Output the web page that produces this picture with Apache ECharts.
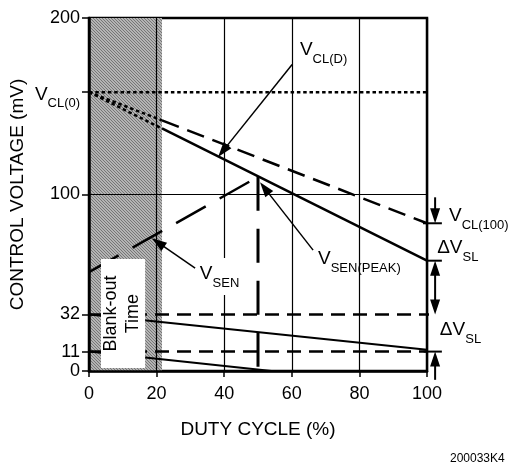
<!DOCTYPE html>
<html><head><meta charset="utf-8">
<script src="https://cdn.jsdelivr.net/npm/echarts@6/dist/echarts.min.js"></script>
<style>html,body{margin:0;padding:0;background:#fff}#c{width:508px;height:466px}</style>
</head><body><div id="c"></div>
<script>
// ---------- data (duty cycle %, control voltage mV) ----------
const xTickValues = [0, 20, 40, 60, 80, 100];
const yTickLabels = [0, 11, 32, 100, 200];
const yTickMarks = [0, 11, 32, 100, 158, 200];
const blankOutRange = [0, 21.6];
const vcl0Line = [[0, 158], [105.5, 158]];
const vclDBlank = [[0, 158], [21.6, 142]];
const vclD = [[21.6, 142], [100, 83.7]];
const vsenPeakBlank = [[0, 158], [21.6, 137.4]];
const vsenPeak = [[21.6, 137.4], [100, 62.5]];
const vsenRise = [[0, 56], [50, 110]];
const vsenDrop = [[50, 110], [50, 0]];
const level32 = [[0, 32], [103.5, 32]];
const level11 = [[0, 11], [100, 11]];
const slopeUpper = [[0, 32], [100, 12]];
const slopeLower = [[0, 11], [54, 0]];
const grid100 = [[0, 100], [100, 100]];

// ---------- annotations (in data coordinates) ----------
const arrows = [
  {from: [60.1, 173.7], to: [38.2, 121.3], w: 1.5},
  {from: [66.3, 68.5], to: [50.6, 106.9], w: 1.5},
  {from: [31.4, 58.3], to: [18.6, 75.2], w: 1.5},
  {from: [102.4, 98.4], to: [102.4, 83.7], w: 2},
  {from: [102.4, 62.5], to: [102.4, 32], w: 2, both: true},
  {from: [102.4, -5], to: [102.4, 11], w: 2},
  {from: [98.8, 83.7], to: [104.4, 83.7], w: 2, noHead: true},
  {from: [100, 62.5], to: [104.4, 62.5], w: 2, noHead: true},
  {from: [99, 11], to: [104.4, 11], w: 2, noHead: true}
];
const labels = [
  {x: 62.4, y: 181.8, main: 'V', sub: 'CL(D)'},
  {x: 67.75, y: 63.5, main: 'V', sub: 'SEN(PEAK)'},
  {x: 32.8, y: 54.9, main: 'V', sub: 'SEN', bg: true},
  {x: 106.5, y: 87.7, main: 'V', sub: 'CL(100)'},
  {x: 103, y: 69.6, main: '\u0394V', sub: 'SL'},
  {x: 103.8, y: 23.2, main: '\u0394V', sub: 'SL'},
  {x: -16, y: 156.7, main: 'V', sub: 'CL(0)'}
];
const blankBox = {x0: 3.55, x1: 16.6, y0: 1.7, y1: 63.4, text: 'Blank-out\nTime'};

const FF = '"Liberation Sans", Arial, Helvetica, sans-serif';
const MAIN_FONT = '19px ' + FF;
const SUB_FONT = '13px ' + FF;
const mctx = document.createElement('canvas').getContext('2d');
function tw(t, f) { mctx.font = f; return mctx.measureText(t).width; }

// hatch pattern
const pat = document.createElement('canvas');
pat.width = 3; pat.height = 3;
const pc = pat.getContext('2d');
pc.fillStyle = '#b4b4b4'; pc.fillRect(0, 0, 3, 3);
pc.fillStyle = '#767676';
for (let i = 0; i < 3; i++) pc.fillRect(i, i, 1, 1);

function lineSeries(data, style, z) {
  return {type: 'line', data: data, symbol: 'none', clip: false, silent: true, z: z || 3,
    lineStyle: Object.assign({color: '#000', width: 2.5}, style), animation: false};
}

const chart = echarts.init(document.getElementById('c'), null, {renderer: 'canvas'});
chart.setOption({
  animation: false,
  backgroundColor: '#fff',
  grid: {left: 89, right: 81, top: 18, bottom: 95, show: true, borderColor: '#000', borderWidth: 2.5, containLabel: false},
  xAxis: {
    type: 'value', min: 0, max: 100, interval: 20, z: 2,
    name: 'DUTY CYCLE (%)', nameLocation: 'middle', nameGap: 49,
    nameTextStyle: {fontSize: 19, fontFamily: FF, color: '#000'},
    axisLine: {show: true, lineStyle: {color: '#000', width: 2.5}},
    axisTick: {show: true, length: 6, lineStyle: {color: '#000', width: 1.5}},
    axisLabel: {fontSize: 18, fontFamily: FF, color: '#000', margin: 14, customValues: xTickValues},
    splitLine: {show: true, lineStyle: {color: '#000', width: 1.2}}
  },
  yAxis: {
    type: 'value', min: 0, max: 200, z: 2,
    name: 'CONTROL VOLTAGE (mV)', nameLocation: 'middle', nameGap: 62,
    nameTextStyle: {fontSize: 19, fontFamily: FF, color: '#000'},
    axisLine: {show: true, lineStyle: {color: '#000', width: 2.5}},
    axisTick: {show: true, length: 7, customValues: yTickMarks, lineStyle: {color: '#000', width: 1.5}},
    axisLabel: {fontSize: 18, fontFamily: FF, color: '#000', margin: 9, customValues: yTickLabels},
    splitLine: {show: false}
  },
  graphic: [{type: 'text', left: 450, top: 453, style: {text: '200033K4', font: '12px ' + FF, fill: '#000'}}],
  series: [
    {type: 'custom', z: 1, silent: true, clip: false, data: [[blankOutRange[0], blankOutRange[1]]],
      renderItem: function (params, api) {
        const p0 = api.coord([api.value(0), 200]);
        const p1 = api.coord([api.value(1), 0]);
        return {type: 'rect', shape: {x: p0[0], y: p0[1], width: p1[0] - p0[0], height: p1[1] - p0[1]},
          style: {fill: {image: pat, repeat: 'repeat'}}};
      }},
    lineSeries(grid100, {width: 1.2}, 2),
    lineSeries(vcl0Line, {type: [3.5, 2.8]}),
    lineSeries(vclDBlank, {type: [3.5, 2.8]}),
    lineSeries(vclD, {type: [18, 9]}),
    lineSeries(vsenPeakBlank, {type: [3.5, 2.8]}),
    lineSeries(vsenPeak, {}),
    lineSeries(vsenRise, {type: [34, 16]}),
    lineSeries(vsenDrop, {type: [34, 18], width: 3}),
    lineSeries(level32, {type: [14, 8]}),
    lineSeries(level11, {type: [14, 8]}),
    lineSeries(slopeUpper, {width: 2}),
    lineSeries(slopeLower, {width: 2}),
    {type: 'custom', z: 4, silent: true, clip: false, data: [[blankBox.x0, blankBox.y0, blankBox.x1, blankBox.y1]],
      renderItem: function (params, api) {
        const a = api.coord([api.value(0), api.value(3)]);
        const b = api.coord([api.value(2), api.value(1)]);
        const cx = (a[0] + b[0]) / 2 - 1.5, cy = (a[1] + b[1]) / 2;
        return {type: 'group', children: [
          {type: 'rect', shape: {x: a[0], y: a[1], width: b[0] - a[0], height: b[1] - a[1]}, style: {fill: '#fff'}},
          {type: 'text', x: cx, y: cy, rotation: Math.PI / 2,
            style: {text: blankBox.text, font: '18px ' + FF, fill: '#000', align: 'center', verticalAlign: 'middle',
              textAlign: 'center', textVerticalAlign: 'middle', lineHeight: 22}}
        ]};
      }},
    {type: 'custom', z: 5, silent: true, clip: false, data: arrows.map((a, i) => [i]),
      renderItem: function (params, api) {
        const a = arrows[params.dataIndex];
        const p1 = api.coord(a.from), p2 = api.coord(a.to);
        const dx = p2[0] - p1[0], dy = p2[1] - p1[1];
        const len = Math.sqrt(dx * dx + dy * dy);
        const ux = dx / len, uy = dy / len, nx = -uy, ny = ux;
        const L = 15, W = 5;
        const children = [];
        function head(t, sx, sy) {
          return {type: 'polygon', shape: {points: [[t[0], t[1]],
            [t[0] - sx * L + nx * W, t[1] - sy * L + ny * W],
            [t[0] - sx * L - nx * W, t[1] - sy * L - ny * W]]}, style: {fill: '#000'}};
        }
        let s = [p1[0], p1[1]], e = [p2[0], p2[1]];
        if (!a.noHead) {
          e = [p2[0] - ux * L * 0.6, p2[1] - uy * L * 0.6];
          children.push(head(p2, ux, uy));
          if (a.both) {
            s = [p1[0] + ux * L * 0.6, p1[1] + uy * L * 0.6];
            children.push(head(p1, -ux, -uy));
          }
        }
        children.unshift({type: 'line', shape: {x1: s[0], y1: s[1], x2: e[0], y2: e[1]},
          style: {stroke: '#000', lineWidth: a.w}});
        return {type: 'group', children: children};
      }},
    {type: 'custom', z: 6, silent: true, clip: false, data: labels.map((a, i) => [i]),
      renderItem: function (params, api) {
        const a = labels[params.dataIndex];
        const p = api.coord([a.x, a.y]);
        const w = tw(a.main, MAIN_FONT), ws = tw(a.sub, SUB_FONT);
        const children = [];
        if (a.bg) children.push({type: 'rect', shape: {x: p[0] - 3, y: p[1] - 16, width: w + ws + 6, height: 37}, style: {fill: '#fff'}});
        children.push({type: 'text', x: p[0], y: p[1], style: {text: a.main, font: MAIN_FONT, fill: '#000',
          align: 'left', verticalAlign: 'middle', textAlign: 'left', textVerticalAlign: 'middle'}});
        children.push({type: 'text', x: p[0] + w, y: p[1] + 9, style: {text: a.sub, font: SUB_FONT, fill: '#000',
          align: 'left', verticalAlign: 'middle', textAlign: 'left', textVerticalAlign: 'middle'}});
        return {type: 'group', children: children};
      }}
  ]
});
</script></body></html>
